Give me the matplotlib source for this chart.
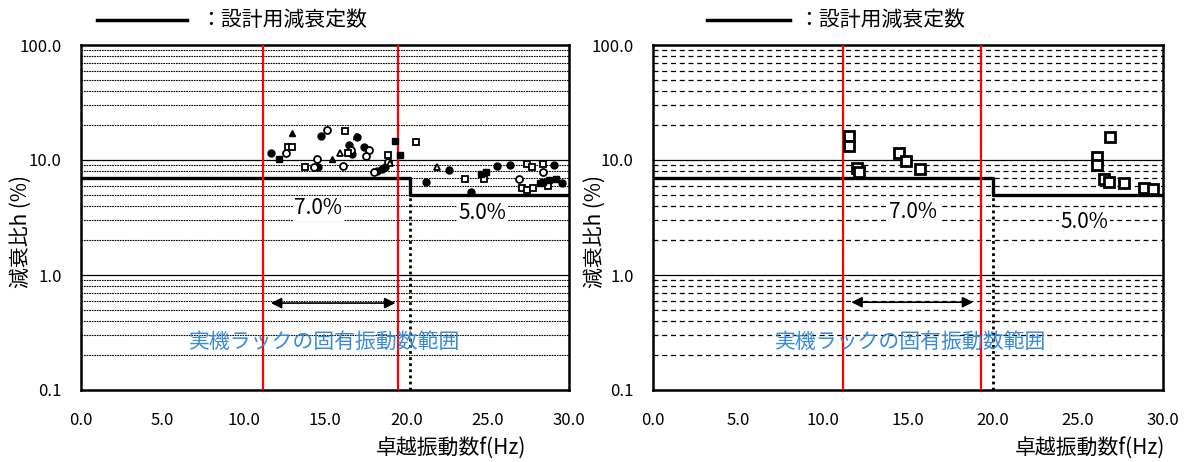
import numpy as np
import matplotlib.pyplot as plt
from matplotlib.lines import Line2D

plt.rcParams['font.family'] = ['Noto Sans CJK JP', 'DejaVu Sans']

# --- data ---
XTICKS = [0, 5, 10, 15, 20, 25, 30]
XTICK_LABELS = ["0.0", "5.0", "10.0", "15.0", "20.0", "25.0", "30.0"]
YTICKS = [0.1, 1, 10, 100]
YTICK_LABELS = ["0.1", "1.0", "10.0", "100.0"]

# design damping: 7.0% below the step, 5.0% above it
DESIGN_H = [7.0, 5.0]
STEP_LEFT = 20.2
STEP_RIGHT = 20.0
RANGE_LEFT = [11.2, 19.5]     # red lines (rack natural frequency range)
RANGE_RIGHT = [11.2, 19.3]

# left panel: measured damping by marker type
L_FCIRC_F = [14.75, 16.95, 11.66, 16.5, 16.65, 17.4, 14.6, 18.2, 18.5, 18.7, 22.6, 25.6, 26.4, 29.1, 21.2, 24.0, 29.6]
L_FCIRC_H = [16.3, 16.0, 11.6, 13.5, 11.2, 13.0, 8.7, 8.0, 8.4, 8.7, 8.2, 8.9, 9.0, 9.0, 6.4, 5.3, 6.25]
L_OCIRC_F = [15.1, 12.6, 16.6, 17.7, 17.5, 14.5, 16.1, 18.9, 18.0, 28.4, 26.9, 14.3]
L_OCIRC_H = [18.2, 11.5, 12.2, 12.2, 10.9, 10.2, 8.9, 9.7, 7.8, 7.9, 6.8, 8.7]
L_OSQ_F = [16.2, 20.6, 12.75, 13.0, 16.4, 18.9, 13.8, 27.4, 27.7, 28.4, 23.6, 24.8, 27.1, 27.4, 27.8, 28.6, 28.7]
L_OSQ_H = [18.0, 14.3, 12.9, 13.0, 11.4, 11.0, 8.7, 9.3, 8.7, 9.2, 6.8, 6.8, 5.7, 5.5, 5.67, 6.25, 5.9]
L_FSQ_F = [19.3, 12.2, 19.6, 24.6, 24.9, 28.2, 28.4, 28.8, 29.2]
L_FSQ_H = [14.6, 10.3, 11.0, 7.6, 7.9, 6.25, 6.5, 6.7, 6.8]
L_FTRI_F = [12.95, 15.4, 16.9]
L_FTRI_H = [17.1, 10.3, 16.2]
L_OTRI_F = [15.9, 21.9, 19.0]
L_OTRI_H = [11.6, 8.7, 9.4]

# right panel: measured damping (open squares)
R_SQ_F = [11.54, 11.54, 12.0, 12.1, 14.45, 14.9, 15.7, 26.9, 26.1, 26.1, 26.5, 26.8, 27.7, 28.9, 29.4]
R_SQ_H = [16.2, 13.2, 8.6, 7.9, 11.4, 9.9, 8.3, 16.0, 10.7, 9.0, 6.9, 6.5, 6.3, 5.7, 5.55]

RANGE_TEXT = "実機ラックの固有振動数範囲"
LEGEND_TEXT = "：設計用減衰定数"
YLABEL = "減衰比h (%)"
XLABEL = "卓越振動数f(Hz)"
BLUE = "#3a8bd6"

fig = plt.figure(figsize=(11.92, 4.62), dpi=100)
ax_l = fig.add_axes([81 / 1192, 1 - 390 / 462, 488 / 1192, 345 / 462])
ax_r = fig.add_axes([653 / 1192, 1 - 390 / 462, 510 / 1192, 345 / 462])


def setup(ax, minor_style, minor_lw, xlab_x, ylab_x):
    ax.set_yscale("log")
    ax.set_xlim(0, 30)
    ax.set_ylim(0.1, 100)
    # grid lines drawn by hand so the style can differ per panel
    for dec in [0.1, 1, 10]:
        for m in range(2, 10):
            ax.axhline(dec * m, color="black", lw=minor_lw, ls=minor_style, zorder=1)
    for v in [1, 10]:
        ax.axhline(v, color="black", lw=0.9, zorder=1)
    ax.set_xticks(XTICKS)
    ax.set_xticklabels(XTICK_LABELS, fontsize=12)
    ax.set_yticks(YTICKS)
    ax.set_yticklabels(YTICK_LABELS, fontsize=12)
    ax.minorticks_off()
    ax.tick_params(length=0, pad=16)
    ax.tick_params(axis="y", pad=14)
    for s in ax.spines.values():
        s.set_linewidth(1.8)
    ax.set_ylabel(YLABEL, fontsize=15)
    ax.yaxis.set_label_coords(ylab_x, 0.458)
    ax.set_xlabel(XLABEL, fontsize=15)
    ax.xaxis.set_label_coords(xlab_x, -0.135)


def design_line(ax, step, red, arrow_x, arrow_y, texts):
    ax.plot([0, step, step, 30], [DESIGN_H[0], DESIGN_H[0], DESIGN_H[1], DESIGN_H[1]],
            color="black", lw=2.4, zorder=3)
    ax.plot([step, step], [0.1, DESIGN_H[1]], color="black", lw=2, ls=(0, (1, 1.2)), zorder=3)
    for xv in red:
        ax.axvline(xv, color="red", lw=1.6, zorder=4)
    ax.annotate("", xy=(arrow_x[0], arrow_y), xytext=(arrow_x[1], arrow_y),
                arrowprops=dict(arrowstyle="<|-|>", color="black", lw=1.2,
                                mutation_scale=16), zorder=5)
    for (tx, ty, s) in texts:
        ax.text(tx, ty, s, fontsize=15, ha="center", va="center", zorder=5,
                bbox=dict(facecolor="white", edgecolor="none", pad=1))


setup(ax_l, (0, (1.5, 0.8)), 0.8, 0.758, -0.1)
setup(ax_r, (0, (4, 3)), 0.9, 0.857, -0.092)

design_line(ax_l, STEP_LEFT, RANGE_LEFT, (11.5, 19.5), 0.57,
            [(14.6, 3.8, "7.0%"), (24.7, 3.45, "5.0%")])
design_line(ax_r, STEP_RIGHT, RANGE_RIGHT, (11.5, 19.0), 0.58,
            [(15.3, 3.5, "7.0%"), (25.4, 2.9, "5.0%")])

ax_l.text(15.0, 0.26, RANGE_TEXT, color=BLUE, fontsize=15, ha="center", va="center", zorder=6)
ax_r.text(15.15, 0.26, RANGE_TEXT, color=BLUE, fontsize=15, ha="center", va="center", zorder=6)

ms = 5
ax_l.plot(L_FCIRC_F, L_FCIRC_H, "o", color="black", ms=ms, ls="none", zorder=6)
ax_l.plot(L_OCIRC_F, L_OCIRC_H, "o", mfc="white", mec="black", mew=1.3, ms=ms, ls="none", zorder=6)
ax_l.plot(L_OSQ_F, L_OSQ_H, "s", mfc="white", mec="black", mew=1.3, ms=ms, ls="none", zorder=6)
ax_l.plot(L_FSQ_F, L_FSQ_H, "s", color="black", ms=ms, ls="none", zorder=6)
ax_l.plot(L_FTRI_F, L_FTRI_H, "^", color="black", ms=ms, ls="none", zorder=6)
ax_l.plot(L_OTRI_F, L_OTRI_H, "^", mfc="white", mec="black", mew=1.3, ms=ms, ls="none", zorder=6)

ax_r.plot(R_SQ_F, R_SQ_H, "s", mfc="white", mec="black", mew=2, ms=7, ls="none", zorder=6)

# legends above each panel
fig.add_artist(Line2D([97 / 1192, 187 / 1192], [1 - 20 / 462] * 2, color="black", lw=2.5))
fig.text(200 / 1192, 1 - 20 / 462, LEGEND_TEXT, fontsize=15, va="center", ha="left")
fig.add_artist(Line2D([707 / 1192, 790 / 1192], [1 - 20 / 462] * 2, color="black", lw=2.5))
fig.text(798 / 1192, 1 - 20 / 462, LEGEND_TEXT, fontsize=15, va="center", ha="left")

fig.savefig("out.png", dpi=100)
